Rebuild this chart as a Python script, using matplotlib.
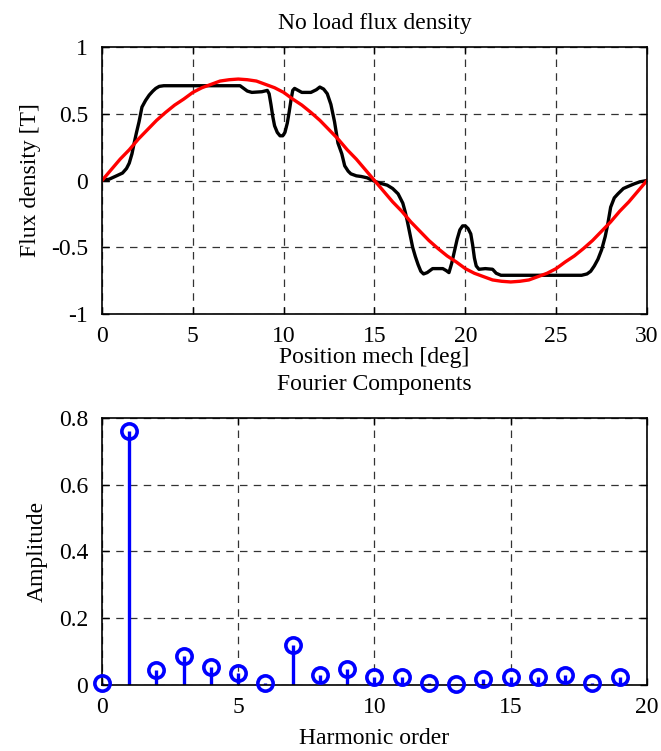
"""
No load flux density and its Fourier components.
Values read off the reference picture.
"""

import matplotlib
matplotlib.use("Agg")
import matplotlib.pyplot as plt

# === DATA ================================================================== #

# black curve: measured flux density vs mechanical position
flux_pos = [0.0, 0.4, 0.8, 1.13, 1.35, 1.5, 1.65, 1.77, 1.9, 2.04, 2.2, 2.4, 2.6,
            2.8, 2.96, 3.15, 3.4,
            7.6, 7.8, 8.0, 8.25, 8.8, 9.1, 9.2, 9.3, 9.4, 9.5, 9.65, 9.8, 9.95,
            10.07, 10.2, 10.3, 10.4, 10.5, 10.6, 10.8, 11.0, 11.5, 11.8, 11.99,
            12.2, 12.4, 12.6, 12.8, 12.99, 13.2, 13.36, 13.55, 13.7, 14.0, 14.27,
            14.6, 14.9, 15.3, 15.7, 16.0, 16.3, 16.56, 16.7, 16.8, 16.95, 17.1,
            17.25, 17.4, 17.55, 17.7, 17.9, 18.2, 18.76, 18.95, 19.1, 19.25,
            19.4, 19.55, 19.7, 19.85, 20.0, 20.15, 20.3, 20.4, 20.5, 20.6, 20.75,
            21.1, 21.5, 21.7, 21.96,
            26.4, 26.7, 26.9, 27.1, 27.3, 27.5, 27.7, 27.85, 28.0, 28.2, 28.4,
            28.7, 28.95, 29.3, 29.6, 30.0]
flux_val = [0.0, 0.01, 0.035, 0.056, 0.09, 0.13, 0.2, 0.28, 0.36, 0.44, 0.55, 0.6, 0.64,
            0.67, 0.69, 0.705, 0.71,
            0.71, 0.69, 0.67, 0.66, 0.665, 0.675, 0.65, 0.57, 0.48, 0.41, 0.36, 0.335, 0.335,
            0.36, 0.43, 0.51, 0.6, 0.675, 0.69, 0.675, 0.66, 0.66, 0.68, 0.70,
            0.685, 0.65, 0.57, 0.44, 0.28, 0.2, 0.11, 0.07, 0.05, 0.035, 0.03,
            0.02, 0.0, -0.02, -0.035, -0.06, -0.1, -0.17, -0.24, -0.30, -0.40, -0.50,
            -0.57, -0.63, -0.68, -0.70, -0.69, -0.66, -0.66, -0.675, -0.69, -0.62,
            -0.53, -0.44, -0.37, -0.34, -0.34, -0.36, -0.40, -0.48, -0.58, -0.64, -0.665,
            -0.66, -0.665, -0.695, -0.71,
            -0.71, -0.70, -0.68, -0.64, -0.59, -0.52, -0.42, -0.32, -0.20, -0.13, -0.10,
            -0.06, -0.045, -0.025, -0.01, 0.0]

# red curve: fundamental component, sampled every 0.5 deg
fund_pos = [i * 0.5 for i in range(61)]
fund_val = [0.0, 0.08, 0.16, 0.23, 0.31, 0.38, 0.45, 0.51, 0.565, 0.61,
            0.66, 0.695, 0.72, 0.745, 0.755, 0.76, 0.755, 0.745, 0.72, 0.695,
            0.66, 0.61, 0.565, 0.51, 0.45, 0.38, 0.31, 0.23, 0.16, 0.08,
            0.0, -0.08, -0.16, -0.23, -0.31, -0.38, -0.45, -0.51, -0.565, -0.61,
            -0.66, -0.695, -0.72, -0.745, -0.755, -0.76, -0.755, -0.745, -0.72, -0.695,
            -0.66, -0.61, -0.565, -0.51, -0.45, -0.38, -0.31, -0.23, -0.16, -0.08,
            0.0]

# harmonic amplitudes
harm_order = list(range(20))
harm_amp = [0.005, 0.76, 0.044, 0.088, 0.054, 0.036, 0.005, 0.12, 0.029, 0.047,
            0.024, 0.024, 0.005, 0.003, 0.017, 0.024, 0.024, 0.029, 0.005, 0.024]

# === STYLE ================================================================= #

FS = 17
plt.rcParams["font.family"] = ["Liberation Serif", "DejaVu Serif"]
plt.rcParams["font.size"] = FS
plt.rcParams["xtick.direction"] = "in"
plt.rcParams["ytick.direction"] = "in"
plt.rcParams["xtick.top"] = True
plt.rcParams["ytick.right"] = True
plt.rcParams["axes.linewidth"] = 1.2


def matlab_grid(ax):
    ax.grid(True, color="#333333", linestyle=(0, (6, 5)), linewidth=0.9)
    ax.set_axisbelow(True)
    ax.tick_params(axis="x", length=5, width=1.0, pad=9)
    ax.tick_params(axis="y", length=5, width=1.0, pad=10)


fig = plt.figure(figsize=(6.61, 7.51), dpi=100)

# --- top: flux density ----------------------------------------------------- #
ax1 = fig.add_axes([0.1543, 0.5819, 0.8245, 0.3555])
ax1.plot(flux_pos, flux_val, color="black", linewidth=2.4)
ax1.plot(fund_pos, fund_val, color="red", linewidth=2.4)
ax1.set_xlim(0, 30)
ax1.set_ylim(-1, 1)
ax1.set_xticks([0, 5, 10, 15, 20, 25, 30])
ax1.set_yticks([-1, -0.5, 0, 0.5, 1])
ax1.set_yticklabels(["-1", "-0.5", "0", "0.5", "1"])
matlab_grid(ax1)
ax1.set_title("No load flux density", fontsize=FS, pad=13)
ax1.set_xlabel("Position mech [deg]", fontsize=FS, labelpad=0)
ax1.set_ylabel("Flux density [T]", fontsize=FS, labelpad=7)

# --- bottom: Fourier components -------------------------------------------- #
ax2 = fig.add_axes([0.1543, 0.0879, 0.8245, 0.3555])
markerline, stemlines, baseline = ax2.stem(harm_order, harm_amp, basefmt=" ")
plt.setp(stemlines, color="blue", linewidth=2.4)
plt.setp(markerline, color="blue", markerfacecolor="none", markeredgecolor="blue",
         markersize=11, markeredgewidth=2.6, clip_on=False, zorder=5)
ax2.set_xlim(0, 20)
ax2.set_ylim(0, 0.8)
ax2.set_xticks([0, 5, 10, 15, 20])
ax2.set_yticks([0, 0.2, 0.4, 0.6, 0.8])
ax2.set_yticklabels(["0", "0.2", "0.4", "0.6", "0.8"])
matlab_grid(ax2)
ax2.set_title("Fourier Components", fontsize=FS, pad=20)
ax2.set_xlabel("Harmonic order", fontsize=FS, labelpad=7)
ax2.set_ylabel("Amplitude", fontsize=FS, labelpad=8)

fig.savefig("out.png", dpi=100)
